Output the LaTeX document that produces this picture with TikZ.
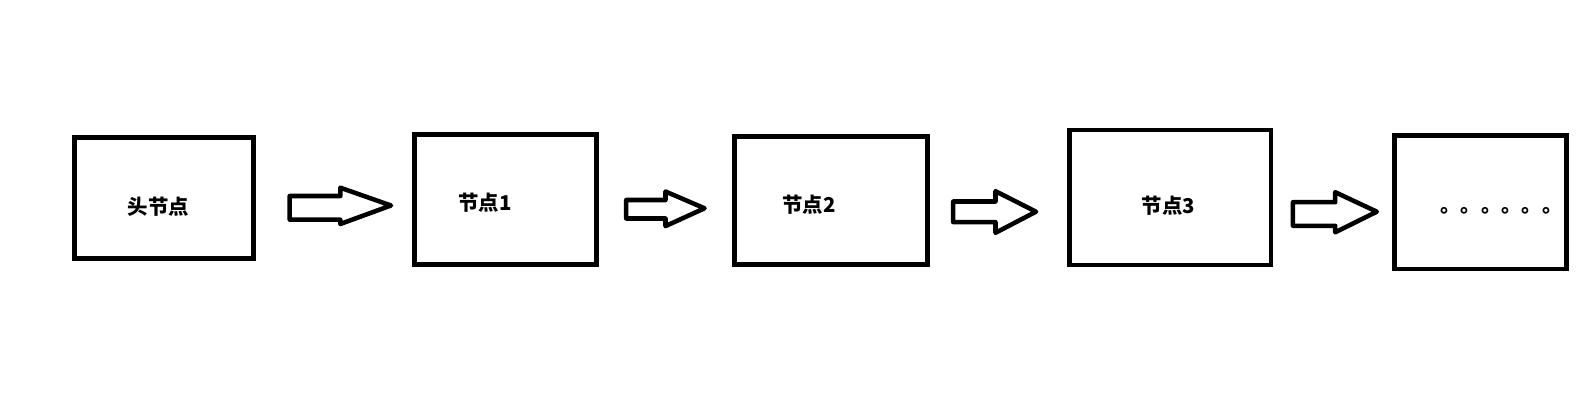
\documentclass[tikz,border=0pt]{standalone}
\usepackage{fontspec}
\newfontfamily\cjk{Noto Sans CJK SC}
\begin{document}
\begin{tikzpicture}[x=0.75pt,y=-0.75pt,
  box/.style={draw=black,line width=3.5pt,rectangle,inner sep=0pt,outer sep=0pt},
  lbl/.style={font=\cjk\bfseries\fontsize{15.3}{15.3}\selectfont,inner sep=0pt,anchor=base},
  blk/.style={draw=black,line width=3.4pt,line join=round,fill=white}]
\useasboundingbox[fill=white] (0,0) rectangle (1584,417);
% boxes
\node[box,minimum width=179.1*0.75pt,minimum height=121.6*0.75pt] (b1) at (164.25,198) {};
\node[box,minimum width=182*0.75pt,minimum height=130.1*0.75pt] (b2) at (505.5,199.75) {};
\node[box,minimum width=192.7*0.75pt,minimum height=128.5*0.75pt] (b3) at (830.85,200.55) {};
\node[box,minimum width=201.5*0.75pt,minimum height=135*0.75pt] (b4) at (1170.25,197.5) {};
\node[box,minimum width=171.7*0.75pt,minimum height=133.5*0.75pt] (b5) at (1480.65,202.25) {};
% labels
\node[lbl] (t1) at (158.3,214.3) {头节点};
\node[lbl] (t2) at (485,210.9) {节点1};
\node[lbl] (t3) at (809,212.1) {节点2};
\node[lbl] (t4) at (1168.3,213.4) {节点3};
\node[lbl,anchor=base west] (t5) at (1440,212.5) {。。。。。。};
% block arrows
\draw[blk] (289.7,196) -- (340.3,196) -- (340.3,187.7) -- (391,205.5) -- (340.3,224) -- (340.3,219.7) -- (289.7,219.7) -- cycle;
\draw[blk] (626.2,200) -- (665.5,200) -- (665.5,191.5) -- (704.5,208.3) -- (665.5,226.1) -- (665.5,218.5) -- (626.2,218.5) -- cycle;
\draw[blk] (953.2,201.5) -- (995.5,201.5) -- (995.5,191.2) -- (1036,211.7) -- (995.5,232.8) -- (995.5,222.1) -- (953.2,222.1) -- cycle;
\draw[blk] (1292.9,202.2) -- (1335.2,202.2) -- (1335.2,192.2) -- (1376.8,211.7) -- (1335.2,232.3) -- (1335.2,225.8) -- (1292.9,225.8) -- cycle;
\end{tikzpicture}
\end{document}
